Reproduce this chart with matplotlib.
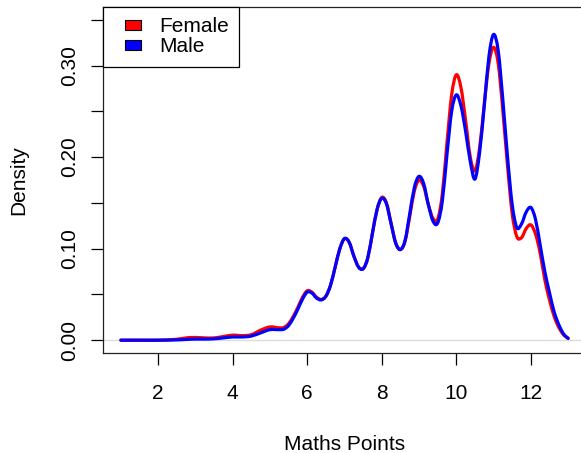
import matplotlib
matplotlib.use("Agg")
import matplotlib.pyplot as plt
from matplotlib.patches import Patch, Rectangle, PathPatch
from matplotlib.path import Path
from matplotlib.legend_handler import HandlerBase

# ---- data ----
points = [1.0, 1.5, 2.0, 2.5, 2.75, 3.0, 3.25, 3.5, 3.75, 4.0, 4.25, 4.5, 4.75,
          5.0, 5.25, 5.375, 5.5, 5.625, 5.75, 5.875,
          6.0, 6.125, 6.25, 6.375, 6.5, 6.625, 6.75, 6.875,
          7.0, 7.125, 7.25, 7.375, 7.5, 7.625, 7.75, 7.875,
          8.0, 8.125, 8.25, 8.375, 8.5, 8.625, 8.75, 8.875,
          9.0, 9.125, 9.25, 9.375, 9.5, 9.625, 9.75, 9.875,
          10.0, 10.125, 10.25, 10.375, 10.5, 10.625, 10.75, 10.875,
          11.0, 11.125, 11.25, 11.375, 11.5, 11.625, 11.75, 11.875,
          12.0, 12.125, 12.25, 12.375, 12.5, 12.625, 12.75, 12.875, 13.0]

female_density = [0.0, 0.0, 0.0, 0.001, 0.0025, 0.003, 0.0025, 0.0025, 0.004, 0.0055, 0.005, 0.006, 0.011,
                  0.0145, 0.0135, 0.014, 0.018, 0.026, 0.036, 0.047,
                  0.054, 0.0525, 0.047, 0.0445, 0.048, 0.060, 0.080, 0.100,
                  0.111, 0.107, 0.092, 0.080, 0.078, 0.090, 0.117, 0.143,
                  0.156, 0.150, 0.128, 0.106, 0.099, 0.108, 0.135, 0.163,
                  0.175, 0.168, 0.148, 0.133, 0.132, 0.160, 0.216, 0.268,
                  0.290, 0.276, 0.240, 0.200, 0.185, 0.210, 0.258, 0.302,
                  0.320, 0.302, 0.250, 0.190, 0.138, 0.113, 0.112, 0.122,
                  0.126, 0.116, 0.095, 0.066, 0.044, 0.026, 0.014, 0.006, 0.002]

male_density = [0.0, 0.0, 0.0, 0.0003, 0.0008, 0.0012, 0.0012, 0.0015, 0.0025, 0.0035, 0.0035, 0.0045, 0.008,
                0.0115, 0.0115, 0.012, 0.016, 0.024, 0.034, 0.045,
                0.0525, 0.0515, 0.046, 0.044, 0.048, 0.060, 0.080, 0.100,
                0.111, 0.107, 0.092, 0.080, 0.078, 0.090, 0.117, 0.143,
                0.155, 0.149, 0.127, 0.106, 0.099, 0.109, 0.138, 0.167,
                0.179, 0.171, 0.148, 0.130, 0.128, 0.152, 0.203, 0.250,
                0.268, 0.256, 0.228, 0.195, 0.176, 0.205, 0.256, 0.310,
                0.334, 0.316, 0.262, 0.200, 0.148, 0.123, 0.127, 0.140,
                0.145, 0.132, 0.104, 0.075, 0.052, 0.031, 0.017, 0.007, 0.002]

series_names = ["Female", "Male"]
series_colors = ["red", "blue"]
x_ticks = [2, 4, 6, 8, 10, 12]
y_ticks = [0.00, 0.05, 0.10, 0.15, 0.20, 0.25, 0.30, 0.35]
y_tick_labels = ["0.00", "", "0.10", "", "0.20", "", "0.30", ""]
x_title = "Maths Points"
y_title = "Density"


def smooth_path(xs, ys):
    """Catmull-Rom curve through the given points, as Bezier segments."""
    n = len(xs)
    verts = [(xs[0], ys[0])]
    codes = [Path.MOVETO]
    for i in range(n - 1):
        x0, y0 = (xs[i - 1], ys[i - 1]) if i > 0 else (xs[i], ys[i])
        x1, y1 = xs[i], ys[i]
        x2, y2 = xs[i + 1], ys[i + 1]
        x3, y3 = (xs[i + 2], ys[i + 2]) if i + 2 < n else (x2, y2)
        h = x2 - x1
        # tangent scaled for non-uniform spacing
        m1 = (y2 - y0) / (x2 - x0) if x2 != x0 else 0.0
        m2 = (y3 - y1) / (x3 - x1) if x3 != x1 else 0.0
        c1 = (x1 + h / 3, y1 + m1 * h / 3)
        c2 = (x2 - h / 3, y2 - m2 * h / 3)
        verts += [c1, c2, (x2, y2)]
        codes += [Path.CURVE4, Path.CURVE4, Path.CURVE4]
    return Path(verts, codes)


# ---- figure ----
plt.rcParams['font.family'] = ['Liberation Sans', 'DejaVu Sans']
FS = 15

fig = plt.figure(figsize=(5.81, 4.53), dpi=100)
ax = fig.add_axes([103 / 581, 100 / 453, 483 / 581, 346 / 453])

ax.axhline(0, color="#dcdcdc", lw=1.0, zorder=1)
for ys, col, z in [(female_density, series_colors[0], 3), (male_density, series_colors[1], 4)]:
    ax.add_patch(PathPatch(smooth_path(points, ys), facecolor="none", edgecolor=col,
                           lw=2.3, zorder=z, capstyle="round", joinstyle="round"))

ax.set_xlim(0.52, 13.48)
ax.set_ylim(-0.014, 0.364)

ax.set_xticks(x_ticks)
ax.set_xticklabels([str(v) for v in x_ticks])
ax.set_yticks(y_ticks)
ax.set_yticklabels(y_tick_labels, rotation=90, va="center")

ax.tick_params(axis="both", direction="out", length=8.4, width=0.9,
               labelsize=FS, colors="black")
ax.tick_params(axis="x", pad=14)
ax.tick_params(axis="y", pad=9)

for sp in ax.spines.values():
    sp.set_linewidth(0.9)
    sp.set_color("#222222")

ax.set_xlabel(x_title, fontsize=FS, va="center")
ax.xaxis.set_label_coords(0.5, (353 - 445) / 346)
ax.set_ylabel(y_title, fontsize=FS, va="center")
ax.yaxis.set_label_coords((18.5 - 103) / 483, 0.5)


class RectHandler(HandlerBase):
    def create_artists(self, legend, orig_handle, xdescent, ydescent,
                       width, height, fontsize, trans):
        w, h = 11.5, 7.2
        x0 = -xdescent + width - w
        y0 = -ydescent + (height - h) / 2
        r = Rectangle((x0, y0), w, h, facecolor=orig_handle.get_facecolor(),
                      edgecolor="black", lw=0.8, transform=trans)
        return [r]


handles = [Patch(facecolor=c, label=n) for c, n in zip(series_colors, series_names)]
leg = ax.legend(handles=handles, loc="upper left", borderaxespad=0,
                fontsize=FS, fancybox=False, framealpha=1, edgecolor="black",
                borderpad=0.5, labelspacing=0.05, handlelength=1.3,
                handleheight=0.7, handletextpad=0.9,
                handler_map={Patch: RectHandler()})
leg.get_frame().set_linewidth(0.9)
leg.set_zorder(10)

fig.savefig("out.png", dpi=100)
